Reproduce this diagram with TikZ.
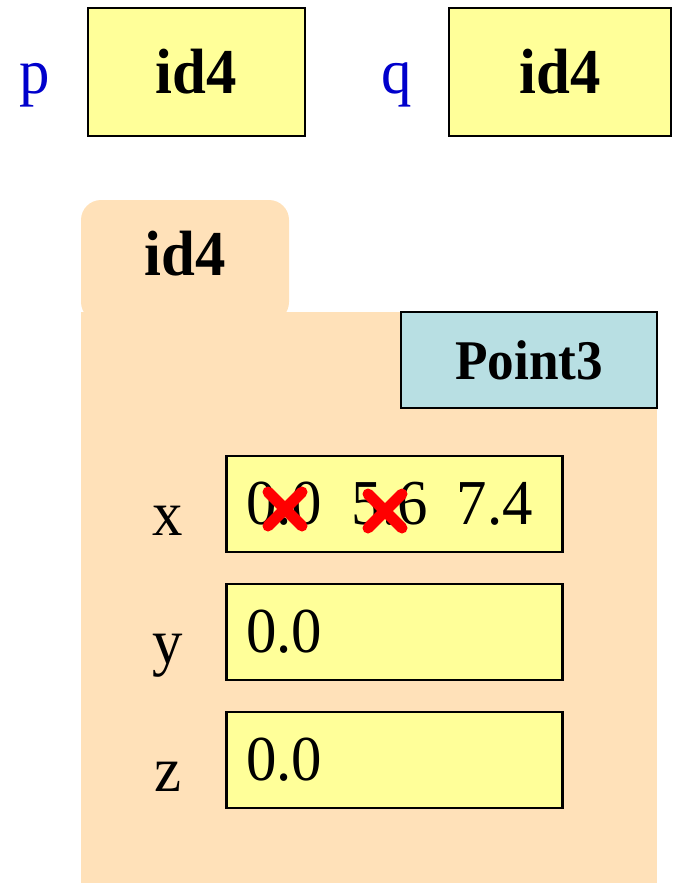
\documentclass[tikz,border=0pt]{standalone}
\usepackage{fontspec}
\setmainfont[FakeStretch=0.95]{Liberation Serif}
\usetikzlibrary{calc}
\definecolor{boxyellow}{RGB}{255,255,153}
\definecolor{foldertan}{RGB}{255,225,185}
\definecolor{classblue}{RGB}{184,223,227}
\definecolor{varblue}{RGB}{0,0,204}
\definecolor{crossred}{RGB}{255,0,0}
\begin{document}
\begin{tikzpicture}[x=1pt,y=-1pt,
  varbox/.style={draw=black, line width=2.7pt, fill=boxyellow, minimum width=217pt, minimum height=128pt, inner sep=0pt, font=\fontsize{64}{70}\selectfont\bfseries},
  varname/.style={text=varblue, anchor=base, inner sep=0pt, font=\fontsize{64}{70}\selectfont},
  fieldbox/.style={draw=black, line width=2.7pt, fill=boxyellow, anchor=west, text width=296pt, align=left, inner xsep=20pt, inner ysep=0pt, minimum height=96pt, font=\fontsize{64}{70}\selectfont},
  fieldname/.style={anchor=base, inner sep=0pt, font=\fontsize{64}{70}\selectfont},
  classbox/.style={draw=black, line width=2.7pt, fill=classblue, minimum width=256pt, minimum height=96pt, inner sep=0pt, font=\fontsize{56}{62}\selectfont\bfseries},
  crossline/.style={draw=crossred, line width=11pt, line cap=round}
]
\useasboundingbox (0,0) rectangle (673,883);
% variables
\node[varname] (pl) at (35,93) {p};
\node[varbox] (pb) at (196.5,72) {id4};
\node[varname] (ql) at (397,93) {q};
\node[varbox, minimum width=222pt] (qb) at (560,72) {id4};
% folder
\fill[foldertan, rounded corners=20pt] (81,200) rectangle (289,322);
\fill[foldertan] (81,312) rectangle (657,883);
\node[anchor=base, inner sep=0pt, font=\fontsize{64}{70}\selectfont\bfseries] (tab) at (185,275) {id4};
\node[classbox] (cls) at (529,360) {Point3};
% fields
\node[fieldname] (xl) at (168,535) {x};
\node[fieldbox] (xb) at (225,504) {0.0\hspace{8pt} 5.6\hspace{8pt} 7.4};
\node[fieldname] (yl) at (168,663) {y};
\node[fieldbox] (yb) at (225,632) {0.0};
\node[fieldname] (zl) at (168,791) {z};
\node[fieldbox] (zb) at (225,760) {0.0};
% crosses
\coordinate (c1) at (285,509);
\coordinate (c2) at (385,511);
\foreach \c in {c1,c2} {
  \draw[crossline] ($(\c)+(-17,-17)$) -- ($(\c)+(17,17)$);
  \draw[crossline] ($(\c)+(-17,17)$) -- ($(\c)+(17,-17)$);
}
\end{tikzpicture}
\end{document}
